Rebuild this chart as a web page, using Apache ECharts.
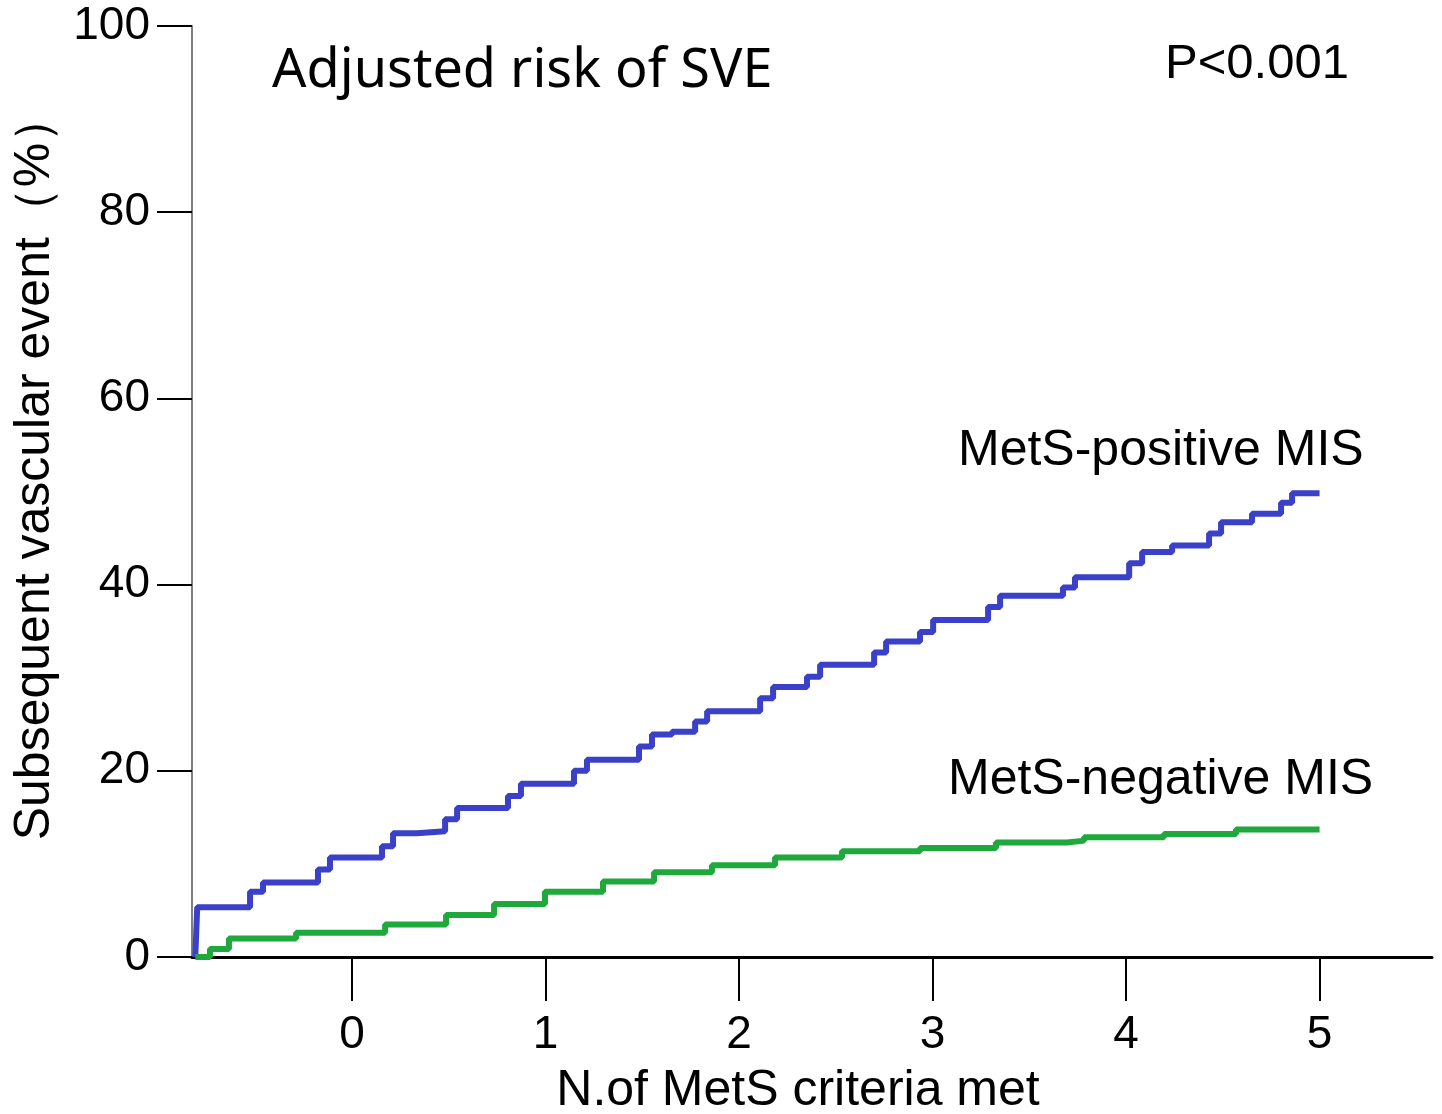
<!DOCTYPE html>
<html>
<head>
<meta charset="utf-8">
<script src="https://cdn.jsdelivr.net/npm/echarts@6/dist/echarts.min.js"></script>
<style>
  html, body { margin: 0; padding: 0; background: #fff; overflow: hidden; }
  #main { width: 1442px; height: 1114px; }
</style>
</head>
<body>
<div id="main"></div>
<script>
// step points: x = N. of criteria, y = % with event
var posX = [-0.81, -0.80, -0.527, -0.460, -0.176, -0.114, 0.155, 0.212, 0.336, 0.481, 0.543, 0.806, 0.873, 1.147, 1.214, 1.483, 1.550, 1.654, 1.773, 1.835, 2.109, 2.176, 2.351, 2.419, 2.698, 2.760, 2.935, 3.003, 3.287, 3.349, 3.674, 3.736, 4.016, 4.083, 4.238, 4.429, 4.491, 4.651, 4.801, 4.858, 5.0];
var posY = [0, 5.35, 7.0, 8.0, 9.4, 10.7, 11.9, 13.3, 13.5, 14.8, 16.0, 17.3, 18.6, 20.0, 21.2, 22.6, 23.9, 24.2, 25.3, 26.4, 27.8, 29.0, 30.1, 31.4, 32.7, 33.9, 34.9, 36.2, 37.6, 38.8, 39.7, 40.8, 42.3, 43.5, 44.2, 45.5, 46.7, 47.6, 48.8, 49.8, 49.8];

var negX = [-0.81, -0.734, -0.636, -0.289, 0.171, 0.486, 0.734, 0.997, 1.297, 1.561, 1.860, 2.186, 2.532, 2.935, 3.328, 3.695, 3.783, 4.196, 4.568, 5.0];
var negY = [0, 0.86, 2.0, 2.6, 3.5, 4.5, 5.7, 7.0, 8.1, 9.1, 9.85, 10.7, 11.35, 11.7, 12.3, 12.5, 12.85, 13.2, 13.7, 13.7];

var xTicks = [0, 1, 2, 3, 4, 5];

function pairs(xs, ys) {
  var out = [];
  for (var i = 0; i < xs.length; i++) out.push([xs[i], ys[i]]);
  return out;
}

var font = 'Liberation Sans, Arial, sans-serif';
var myChart = echarts.init(document.getElementById('main'), null, { width: 1442, height: 1114 });

var option = {
  animation: false,
  backgroundColor: '#fff',
  grid: { left: 192, right: 10, top: 26, bottom: 157, outerBoundsMode: 'none' },
  xAxis: {
    type: 'value',
    min: -0.827,
    max: 5.581,
    name: 'N.of MetS criteria met',
    nameLocation: 'middle',
    nameGap: 109,
    nameTextStyle: { fontFamily: font, fontSize: 50, color: '#000', padding: [0, 28, 0, 0] },
    axisLine: { lineStyle: { color: '#000', width: 3 } },
    axisTick: { customValues: xTicks, length: 44, lineStyle: { color: '#000', width: 2 } },
    axisLabel: { customValues: xTicks, margin: 55, fontFamily: font, fontSize: 46, color: '#000' },
    splitLine: { show: false }
  },
  yAxis: {
    type: 'value',
    min: 0,
    max: 100,
    interval: 20,
    name: 'Subsequent vascular event（%）',
    nameLocation: 'middle',
    nameGap: 132,
    nameTextStyle: { fontFamily: font, fontSize: 50, color: '#000', padding: [0, 0, 0, 50] },
    axisLine: { show: true, onZero: false, lineStyle: { color: '#808080', width: 2 } },
    axisTick: { show: true, length: 35, lineStyle: { color: '#000', width: 2 } },
    axisLabel: { margin: 42, fontFamily: font, fontSize: 46, color: '#000', padding: [8, 0, 0, 0] },
    splitLine: { show: false }
  },
  graphic: [
    { type: 'text', left: 272, top: 45, style: { text: 'Adjusted risk of SVE', font: '54px "Noto Sans", sans-serif', fill: '#000' } },
    { type: 'text', left: 1165, top: 40, style: { text: 'P<0.001', font: '49px ' + font, fill: '#000' } },
    { type: 'text', left: 958, top: 426, style: { text: 'MetS-positive MIS', font: '50px ' + font, fill: '#000' } },
    { type: 'text', left: 948, top: 755, style: { text: 'MetS-negative MIS', font: '50px ' + font, fill: '#000' } }
  ],
  series: [
    {
      name: 'MetS-positive MIS',
      type: 'line',
      step: 'end',
      showSymbol: false,
      lineStyle: { color: '#3b40c8', width: 6 },
      data: pairs(posX, posY)
    },
    {
      name: 'MetS-negative MIS',
      type: 'line',
      step: 'end',
      showSymbol: false,
      lineStyle: { color: '#1fa83c', width: 6 },
      data: pairs(negX, negY)
    }
  ]
};

myChart.setOption(option);
</script>
</body>
</html>
